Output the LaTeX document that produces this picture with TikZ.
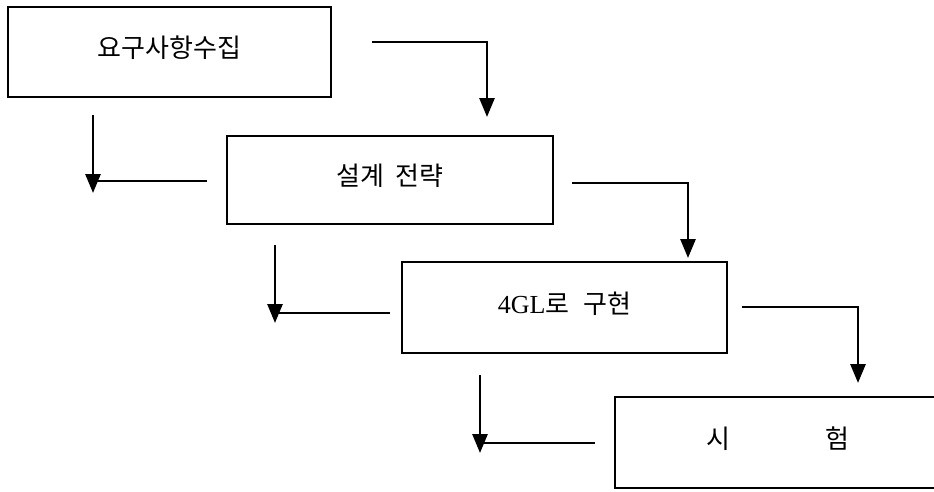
\documentclass[tikz,border=0pt]{standalone}
\usepackage{fontspec}
\setmainfont{Liberation Serif}
\newfontfamily\kr{Noto Sans CJK KR}
\usetikzlibrary{arrows.meta}
\tikzset{
  stagebox/.style={draw, line width=2.8pt, rectangle, inner sep=0pt,
    font=\fontsize{26}{31}\selectfont\kr, text height=1.1em, text depth=0pt},
  flowline/.style={line width=2.8pt},
  flowarrow/.style={line width=2.8pt, -{Triangle[width=15pt,length=19pt]}}
}
\begin{document}
\begin{tikzpicture}[x=1pt,y=-1pt]
\useasboundingbox (0,0) rectangle (934,491);
\clip (0,0) rectangle (934,491);
\fill[white] (0,0) rectangle (934,491);
% boxes
\node[stagebox, minimum width=323pt, minimum height=90pt] (b1) at (169.5,52) {요구사항수집};
\node[stagebox, minimum width=326pt, minimum height=88pt] (b2) at (390,180) {설계\hspace{12pt}전략};
\node[stagebox, minimum width=325pt, minimum height=91pt] (b3) at (564.5,307.5) {{\fontspec{Liberation Serif}4GL}로\hspace{14pt}구현};
\node[stagebox, minimum width=326pt, minimum height=91pt] (b4) at (778,442.5) {시\hspace{95pt}험};
% right-side connectors
\coordinate (r1s) at (372,42);  \coordinate (r1c) at (487,42);  \coordinate (r1e) at (487,117);
\coordinate (r2s) at (572,183); \coordinate (r2c) at (688,183); \coordinate (r2e) at (688,258);
\coordinate (r3s) at (742,307); \coordinate (r3c) at (858,307); \coordinate (r3e) at (858,383);
\draw[flowarrow] (r1s) -- (r1c) -- (r1e);
\draw[flowarrow] (r2s) -- (r2c) -- (r2e);
\draw[flowarrow] (r3s) -- (r3c) -- (r3e);
% left-side connectors
\coordinate (l1s) at (207,181); \coordinate (l1c) at (93,181);
\coordinate (l1t) at (93,115);  \coordinate (l1e) at (93,193);
\coordinate (l2s) at (390,313); \coordinate (l2c) at (275,313);
\coordinate (l2t) at (275,245); \coordinate (l2e) at (275,323);
\coordinate (l3s) at (595,443); \coordinate (l3c) at (480,443);
\coordinate (l3t) at (480,375); \coordinate (l3e) at (480,453);
\draw[flowline] (l1s) -- (l1c);
\draw[flowarrow] (l1t) -- (l1e);
\draw[flowline] (l2s) -- (l2c);
\draw[flowarrow] (l2t) -- (l2e);
\draw[flowline] (l3s) -- (l3c);
\draw[flowarrow] (l3t) -- (l3e);
\end{tikzpicture}
\end{document}
